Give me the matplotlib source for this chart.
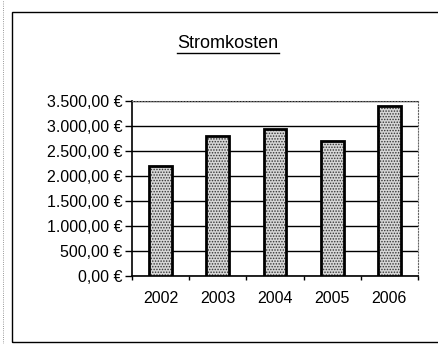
import matplotlib
matplotlib.use("Agg")
import matplotlib.pyplot as plt
from matplotlib.patches import Rectangle
from matplotlib.ticker import FuncFormatter, MultipleLocator

years = ["2002", "2003", "2004", "2005", "2006"]
kosten = [2200, 2800, 2950, 2700, 3400]

plt.rcParams['font.family'] = ['Liberation Sans', 'DejaVu Sans']
plt.rcParams['hatch.linewidth'] = 0.7

def euro(v, pos):
    s = "{:,.2f}".format(v).replace(",", "X").replace(".", ",").replace("X", ".")
    return s + " €"

fig = plt.figure(figsize=(4.39, 3.44), dpi=100)
fig.patch.set_facecolor("white")

# Rahmen um das Diagramm
fig.patches.append(Rectangle((12 / 439, 2 / 344), 1.0, 330 / 344, transform=fig.transFigure,
                             fill=False, edgecolor="black", linewidth=1.0))
fig.add_artist(plt.Line2D([3 / 439, 3 / 439], [0, 1], transform=fig.transFigure,
                          color="#777777", linewidth=0.6, linestyle=":"))

ax = fig.add_axes([132 / 439, 68 / 344, 286 / 439, 175 / 344])
x = range(len(years))
ax.bar(x, kosten, width=0.4, color="#d6d6d6", hatch="......", edgecolor="#333333",
       linewidth=0, zorder=3)
ax.bar(x, kosten, width=0.4, fill=False, edgecolor="black", linewidth=2.0, zorder=4)

ax.set_xlim(-0.5, len(years) - 0.5)
ax.set_ylim(0, 3500)
ax.yaxis.set_major_locator(MultipleLocator(500))
ax.yaxis.set_major_formatter(FuncFormatter(euro))
ax.set_xticks(list(x))
ax.set_xticklabels(years)
ax.set_xticks([i - 0.5 for i in range(len(years) + 1)], minor=True)
ax.tick_params(axis="x", which="major", length=0, pad=11, labelsize=11.5)
ax.tick_params(axis="x", which="minor", length=3, width=1, direction="out")
ax.tick_params(axis="y", length=5, width=1, labelsize=11.5, pad=2)
ax.grid(axis="y", color="black", linewidth=1.0, zorder=0)

for side in ["top", "right"]:
    ax.spines[side].set_linestyle(":")
    ax.spines[side].set_color("#666666")
    ax.spines[side].set_linewidth(0.8)
for side in ["left", "bottom"]:
    ax.spines[side].set_linewidth(1.2)

title = fig.text(228 / 439, 1 - 43 / 344, "Stromkosten", ha="center", va="center",
                 fontsize=13)

# Unterstreichung passend zur Titelbreite
fig.canvas.draw()
bb = title.get_window_extent().transformed(fig.transFigure.inverted())
fig.add_artist(plt.Line2D([bb.x0, bb.x1], [bb.y0 - 0.004, bb.y0 - 0.004],
                          transform=fig.transFigure, color="black", linewidth=1.0))

fig.savefig("out.png", dpi=100)
